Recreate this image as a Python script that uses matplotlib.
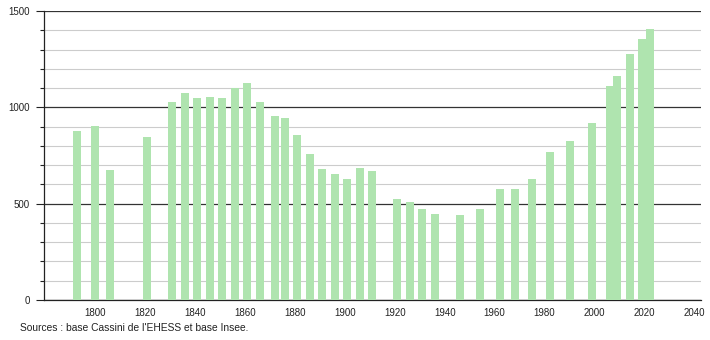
import matplotlib
matplotlib.use("Agg")
import matplotlib.pyplot as plt
from matplotlib.ticker import MultipleLocator

# census years and population
years = [1793, 1800, 1806, 1821, 1831, 1836, 1841, 1846, 1851, 1856,
         1861, 1866, 1872, 1876, 1881, 1886, 1891, 1896, 1901, 1906,
         1911, 1921, 1926, 1931, 1936, 1946, 1954, 1962, 1968, 1975,
         1982, 1990, 1999, 2006, 2009, 2014, 2019, 2022]
population = [877, 903, 675, 847, 1027, 1073, 1048, 1052, 1048, 1099,
              1125, 1027, 955, 945, 856, 758, 678, 654, 626, 685,
              668, 523, 509, 472, 446, 441, 472, 576, 576, 628,
              770, 825, 919, 1111, 1162, 1277, 1354, 1406]
x_ticks = [1800, 1820, 1840, 1860, 1880, 1900, 1920, 1940, 1960, 1980, 2000, 2020, 2040]
source = "Sources : base Cassini de l'EHESS et base Insee."

plt.rcParams['font.family'] = ['Liberation Sans', 'DejaVu Sans']

fig = plt.figure(figsize=(7.1, 3.4), dpi=100)
ax = fig.add_axes([44/710, 40/340, 657/710, 289/340])

ax.bar(years, population, width=3.2, color='#afe4af', zorder=3)

ax.set_xlim(1779.6, 2042.6)
ax.set_ylim(0, 1500)
ax.set_xticks(x_ticks)
ax.yaxis.set_major_locator(MultipleLocator(500))
ax.yaxis.set_minor_locator(MultipleLocator(100))

ax.grid(axis='y', which='minor', color='#cccccc', linewidth=0.8, zorder=1)
ax.grid(axis='y', which='major', color='#333333', linewidth=0.9, zorder=2)

for s in ['top', 'right']:
    ax.spines[s].set_visible(False)
ax.spines['left'].set_color('#222222')
ax.spines['bottom'].set_color('#222222')
ax.spines['left'].set_linewidth(0.9)
ax.spines['bottom'].set_linewidth(0.9)

ax.tick_params(axis='x', length=0, labelsize=7, pad=6, colors='#222222')
ax.tick_params(axis='y', which='major', length=6, width=0.8, labelsize=7, pad=4, colors='#222222')
ax.tick_params(axis='y', which='minor', length=3, width=0.8, colors='#222222')

fig.text(20/710, 1 - 328/340, source, fontsize=7.4, color='#222222', va='center')

fig.savefig("out.png", dpi=100)
